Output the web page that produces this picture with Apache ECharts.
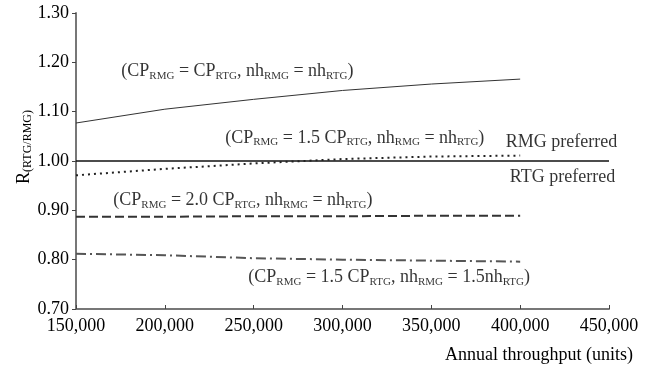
<!DOCTYPE html>
<html>
<head>
<meta charset="utf-8">
<script src="https://cdn.jsdelivr.net/npm/echarts@6/dist/echarts.min.js"></script>
<style>
html,body{margin:0;padding:0;background:#fff;}
#chart{width:653px;height:367px;}
</style>
</head>
<body>
<div id="chart"></div>
<script>
// ---- data ----
const throughput = [150000, 200000, 250000, 300000, 350000, 400000];
const equalCost = [1.077, 1.105, 1.125, 1.143, 1.156, 1.166];
const cost15 = [0.971, 0.984, 0.995, 1.004, 1.009, 1.011];
const cost20 = [0.887, 0.887, 0.888, 0.888, 0.889, 0.889];
const cost15nh15 = [0.812, 0.809, 0.803, 0.800, 0.798, 0.796];
const thresholdX = [150000, 450000];
const thresholdY = [1.00, 1.00];
const xTicks = [150000, 200000, 250000, 300000, 350000, 400000, 450000];
const yTicks = [0.70, 0.80, 0.90, 1.00, 1.10, 1.20, 1.30];

// annotation anchors (data coordinates: left edge, vertical centre)
const annotations = [
  { x: 175500, y: 1.182, parts: [['m','(CP'],['s','RMG'],['m',' = CP'],['s','RTG'],['m',', nh'],['s','RMG'],['m',' = nh'],['s','RTG'],['m',')']] },
  { x: 234000, y: 1.047, parts: [['m','(CP'],['s','RMG'],['m',' = 1.5 CP'],['s','RTG'],['m',', nh'],['s','RMG'],['m',' = nh'],['s','RTG'],['m',')']] },
  { x: 391900, y: 1.038, parts: [['m','RMG preferred']] },
  { x: 394200, y: 0.968, parts: [['m','RTG preferred']] },
  { x: 171000, y: 0.920, parts: [['m','(CP'],['s','RMG'],['m',' = 2.0 CP'],['s','RTG'],['m',', nh'],['s','RMG'],['m',' = nh'],['s','RTG'],['m',')']] },
  { x: 247000, y: 0.764, parts: [['m','(CP'],['s','RMG'],['m',' = 1.5 CP'],['s','RTG'],['m',', nh'],['s','RMG'],['m',' = 1.5nh'],['s','RTG'],['m',')']] }
];

const FONT = '"Liberation Serif", "Times New Roman", serif';
const pair = (xs, ys) => xs.map((x, i) => [x, ys[i]]);
const richStyles = {
  m: { fontFamily: FONT, fontSize: 18, color: '#000', lineHeight: 20, verticalAlign: 'middle' },
  s: { fontFamily: FONT, fontSize: 11, color: '#000', lineHeight: 10, verticalAlign: 'bottom' }
};
const toRich = parts => parts.map(p => '{' + p[0] + '|' + p[1] + '}').join('');

const lineSeries = (data, dash, width, color) => ({
  type: 'line', data: data, symbol: 'none', silent: true,
  lineStyle: { color: color, width: width, type: dash, cap: 'butt' },
  z: 3
});

const chart = echarts.init(document.getElementById('chart'), null, { renderer: 'canvas' });
chart.setOption({
  animation: false,
  backgroundColor: '#fff',
  grid: { left: 76, right: 44, top: 13, bottom: 58, containLabel: false, outerBoundsMode: 'none' },
  xAxis: {
    type: 'value', min: 150000, max: 450000, interval: 50000,
    axisLine: { lineStyle: { color: '#777', width: 2 } },
    axisTick: { inside: true, length: 4, lineStyle: { color: '#444', width: 1 } },
    splitLine: { show: false },
    axisLabel: {
      margin: 8, color: '#000', fontFamily: FONT, fontSize: 18,
      formatter: v => xTicks.includes(v) ? v.toLocaleString('en-US') : ''
    }
  },
  yAxis: {
    type: 'value', min: 0.7, max: 1.3, interval: 0.1,
    axisLine: { show: true, lineStyle: { color: '#777', width: 2 } },
    axisTick: { show: true, inside: false, length: 4, lineStyle: { color: '#444', width: 1 } },
    splitLine: { show: false },
    axisLabel: {
      margin: 7, color: '#000', fontFamily: FONT, fontSize: 18,
      formatter: v => {
        const t = yTicks.find(k => Math.abs(k - v) < 1e-6);
        return t !== undefined ? t.toFixed(2) : '';
      }
    },
    name: '{m|R}{s|(RTG/RMG)}',
    nameLocation: 'middle', nameRotate: 90, nameGap: 42, nameMoveOverlap: false,
    nameTextStyle: { padding: [0, 0, 0, 28], rich: { m: { fontFamily: FONT, fontSize: 18, color: '#000', lineHeight: 20, verticalAlign: 'middle' }, s: { fontFamily: FONT, fontSize: 12, color: '#000', lineHeight: 11, verticalAlign: 'bottom' } } }
  },
  graphic: [{
    type: 'text', right: 20, bottom: 3,
    style: { text: 'Annual throughput (units)', font: '18px ' + FONT, fill: '#000' }
  }],
  series: [
    lineSeries(pair(thresholdX, thresholdY), 'solid', 1.3, '#111'),
    lineSeries(pair(throughput, equalCost), 'solid', 1, '#333'),
    lineSeries(pair(throughput, cost15), [2, 4], 2, '#222'),
    lineSeries(pair(throughput, cost20), [9, 4], 2, '#333'),
    lineSeries(pair(throughput, cost15nh15), [10, 4, 2, 4], 2, '#555'),
    {
      type: 'scatter', symbolSize: 0, silent: true, z: 5,
      data: annotations.map(a => ({ value: [a.x, a.y], label: { formatter: toRich(a.parts) } })),
      label: { show: true, position: 'right', distance: 0, rich: richStyles }
    }
  ]
});
</script>
</body>
</html>
